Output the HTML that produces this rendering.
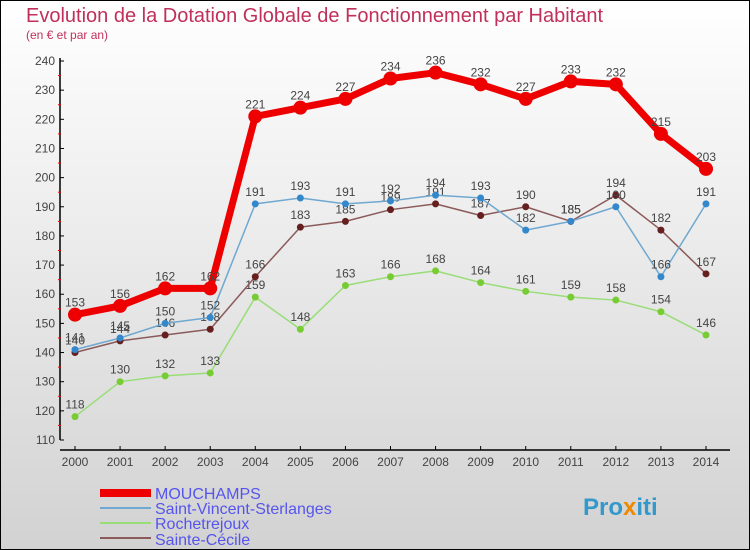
<!DOCTYPE html>
<html><head><meta charset="utf-8"><style>
body{margin:0;width:750px;height:550px;overflow:hidden}
svg{display:block;font-family:"Liberation Sans",sans-serif}
</style></head><body>
<svg width="750" height="550" viewBox="0 0 750 550">
<defs><linearGradient id="bg" x1="0" y1="0" x2="0" y2="1"><stop offset="0" stop-color="#ffffff"/><stop offset="1" stop-color="#d2d2d2"/></linearGradient></defs>
<rect x="0.5" y="0.5" width="749" height="549" fill="url(#bg)" stroke="#000"/>
<text x="26" y="22" font-size="20" fill="#c0305a">Evolution de la Dotation Globale de Fonctionnement par Habitant</text>
<text x="26" y="39" font-size="12" fill="#c0305a">(en € et par an)</text>
<g id="axes"></g>
<g id="series"></g>
<g id="legend" font-size="16" fill="#5555ee">
<rect x="100" y="489" width="51" height="8" fill="#ee0000"/>
<text x="155" y="499">MOUCHAMPS</text>
<rect x="100" y="507" width="51" height="2" fill="#6fa8d0"/>
<text x="155" y="514">Saint-Vincent-Sterlanges</text>
<rect x="100" y="522" width="51" height="2" fill="#99dd77"/>
<text x="155" y="529">Rochetrejoux</text>
<rect x="100" y="537" width="51" height="2" fill="#8b5a5a"/>
<text x="155" y="545">Sainte-Cécile</text>
</g>
<text x="583" y="515" font-size="24" font-weight="bold" fill="#3399cc">Pro<tspan fill="#ee8800">x</tspan>iti</text>
</svg>
<script>
const years=["2000","2001","2002","2003","2004","2005","2006","2007","2008","2009","2010","2011","2012","2013","2014"];
const yTicks=[110,120,130,140,150,160,170,180,190,200,210,220,230,240];
const mouchamps=[153,156,162,162,221,224,227,234,236,232,227,233,232,215,203];
const saintVincent=[141,145,150,152,191,193,191,192,194,193,182,185,190,166,191];
const rochetrejoux=[118,130,132,133,159,148,163,166,168,164,161,159,158,154,146];
const sainteCecile=[140,144,146,148,166,183,185,189,191,187,190,185,194,182,167];
const NS="http://www.w3.org/2000/svg";
const X=i=>75+i*(706-75)/(years.length-1);
const Y=v=>440-(v-110)*(440-61)/130;
function mk(t,a,p){const e=document.createElementNS(NS,t);for(const k in a)e.setAttribute(k,a[k]);p.appendChild(e);return e;}
const ax=document.getElementById('axes');
const yl=mk('line',{x1:60,y1:58,x2:60,y2:440,stroke:'#000','stroke-width':1.5},ax);


const xl=mk('line',{x1:60,y1:450,x2:730,y2:450,stroke:'#000','stroke-width':1.5},ax);


yTicks.forEach(v=>{
 mk('line',{x1:60,y1:Y(v),x2:64,y2:Y(v),stroke:'#000'},ax);
 if(v<240)mk('line',{x1:58,y1:Y(v+5),x2:61,y2:Y(v+5),stroke:'#e00'},ax);
 const t=mk('text',{x:55,y:Y(v)+4,'text-anchor':'end','font-size':12,fill:'#444'},ax);
 t.textContent=v;
 
 
});
years.forEach((y,i)=>{
 mk('line',{x1:X(i),y1:446,x2:X(i),y2:450,stroke:'#000'},ax);
 const t=mk('text',{x:X(i),y:466,'text-anchor':'middle','font-size':12,fill:'#444'},ax);
 t.textContent=y;
 
 
});
const sg=document.getElementById('series');
function draw(vals,color,w,r,dot,name){
 const g=mk('g',{},sg);
 
 
 const pl=mk('polyline',{points:vals.map((v,i)=>X(i)+','+Y(v)).join(' '),fill:'none',stroke:color,'stroke-width':w,'stroke-linejoin':'round'},g);
 
 
 vals.forEach((v,i)=>{
  const c=mk('circle',{cx:X(i),cy:Y(v),r:r,fill:dot},g);
  
  
  const t=mk('text',{x:X(i),y:Y(v)-8,'text-anchor':'middle','font-size':12,fill:'#444'},g);
  t.textContent=v;
  
  
 });
}
draw(rochetrejoux,'#99dd77',1.5,3.5,'#77cc33','rochetrejoux');
draw(sainteCecile,'#8b5a5a',1.5,3.5,'#661f1f','sainte-cecile');
draw(saintVincent,'#6fa8d0',1.5,3.5,'#3388cc','saint-vincent');
draw(mouchamps,'#ee0000',7,7,'#ee0000','mouchamps');
</script>
</body></html>
